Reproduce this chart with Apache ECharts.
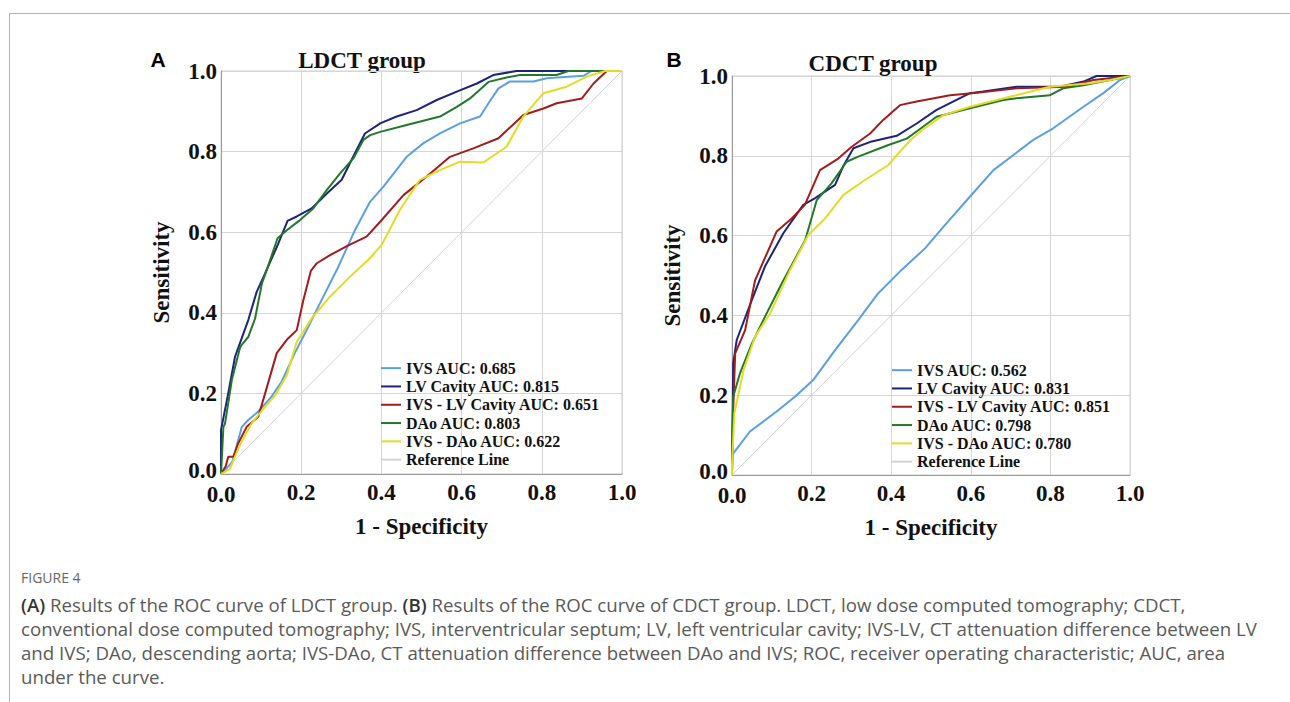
<!DOCTYPE html>
<html>
<head>
<meta charset="utf-8">
<script src="https://cdn.jsdelivr.net/npm/echarts@6/dist/echarts.min.js"></script>
<style>
  html, body { margin: 0; padding: 0; background: #fff; }
  #page { position: relative; width: 1290px; height: 702px; overflow: hidden; }
  #frame { position: absolute; left: 9px; top: 13px; right: 0; bottom: -2px;
           border-top: 1px solid #b3b3b3; border-left: 1px solid #b3b3b3; }
  #roc { position: absolute; left: 0; top: 0; width: 1290px; height: 702px; }
  #caption { position: absolute; left: 21px; top: 566px; font-family: "Open Sans", Lato, sans-serif;
             color: #5a5a5a; white-space: nowrap; }
  #caption .fig { font-size: 14px; line-height: 24px; color: #666; margin-bottom: 3px; }
  #caption .line { font-size: 18px; line-height: 24px; }
  #caption b { color: #333; font-weight: 600; }
</style>
</head>
<body>
<div id="page">
  <div id="frame"></div>
  <div id="roc"></div>
  <div id="caption">
    <div class="fig">FIGURE 4</div>
    <div class="line"><b>(A)</b> Results of the ROC curve of LDCT group. <b>(B)</b> Results of the ROC curve of CDCT group. LDCT, low dose computed tomography; CDCT,</div>
    <div class="line"><span id="cap2">conventional dose computed tomography; IVS, interventricular septum; LV, left ventricular cavity; IVS-LV, CT attenuation difference between LV</span></div>
    <div class="line">and IVS; DAo, descending aorta; IVS-DAo, CT attenuation difference between DAo and IVS; ROC, receiver operating characteristic; AUC, area</div>
    <div class="line">under the curve.</div>
  </div>
</div>
<script>
// ROC points [1 - specificity, sensitivity]
var ldctIVS = [[0,0],[0.014,0.014],[0.028,0.03],[0.052,0.117],[0.068,0.134],[0.093,0.155],[0.126,0.192],[0.151,0.229],[0.184,0.3],[0.218,0.366],[0.251,0.432],[0.293,0.515],[0.334,0.605],[0.372,0.676],[0.405,0.713],[0.463,0.787],[0.505,0.821],[0.546,0.845],[0.596,0.87],[0.646,0.887],[0.667,0.92],[0.692,0.957],[0.721,0.974],[0.779,0.974],[0.812,0.982],[0.904,0.988],[0.924,1],[1,1]];
var ldctLV = [[0,0],[0,0.109],[0.018,0.2],[0.035,0.291],[0.047,0.324],[0.068,0.382],[0.089,0.452],[0.11,0.498],[0.143,0.572],[0.166,0.628],[0.189,0.639],[0.226,0.659],[0.264,0.696],[0.301,0.73],[0.338,0.804],[0.359,0.845],[0.397,0.87],[0.438,0.887],[0.488,0.903],[0.538,0.928],[0.588,0.949],[0.638,0.969],[0.679,0.99],[0.737,1],[1,1]];
var ldctIVSLV = [[0,0],[0.012,0.02],[0.018,0.043],[0.031,0.043],[0.043,0.076],[0.064,0.117],[0.093,0.142],[0.11,0.2],[0.139,0.3],[0.164,0.333],[0.189,0.357],[0.205,0.43],[0.224,0.504],[0.239,0.523],[0.272,0.543],[0.315,0.566],[0.363,0.589],[0.397,0.626],[0.455,0.692],[0.513,0.738],[0.571,0.787],[0.629,0.808],[0.692,0.833],[0.754,0.891],[0.804,0.907],[0.837,0.92],[0.9,0.932],[0.929,0.969],[0.962,1],[1,1]];
var ldctDAo = [[0,0],[0.006,0.117],[0.01,0.125],[0.027,0.233],[0.047,0.312],[0.051,0.32],[0.068,0.34],[0.085,0.386],[0.102,0.473],[0.114,0.506],[0.141,0.585],[0.164,0.605],[0.197,0.63],[0.23,0.659],[0.264,0.705],[0.297,0.746],[0.33,0.783],[0.355,0.829],[0.372,0.841],[0.397,0.849],[0.463,0.866],[0.546,0.887],[0.588,0.911],[0.621,0.932],[0.667,0.973],[0.712,0.984],[0.746,0.99],[0.837,0.99],[0.866,1],[1,1]];
var ldctIVSDAo = [[0,0],[0.022,0.012],[0.047,0.072],[0.076,0.125],[0.106,0.162],[0.135,0.195],[0.164,0.245],[0.189,0.328],[0.226,0.386],[0.268,0.436],[0.318,0.486],[0.372,0.536],[0.401,0.569],[0.446,0.655],[0.496,0.73],[0.546,0.754],[0.596,0.775],[0.654,0.773],[0.712,0.812],[0.754,0.887],[0.804,0.945],[0.862,0.961],[0.912,0.986],[0.958,1],[1,1]];

var cdctIVS = [[0,0],[0,0.05],[0.045,0.109],[0.112,0.159],[0.158,0.196],[0.204,0.238],[0.259,0.313],[0.317,0.388],[0.367,0.455],[0.426,0.514],[0.485,0.568],[0.531,0.622],[0.598,0.698],[0.657,0.764],[0.707,0.802],[0.757,0.84],[0.807,0.869],[0.883,0.923],[0.933,0.957],[0.975,0.99],[1,1]];
var cdctLV = [[0,0],[0.002,0.171],[0.003,0.28],[0.012,0.339],[0.05,0.439],[0.083,0.523],[0.129,0.606],[0.179,0.677],[0.209,0.694],[0.259,0.727],[0.279,0.773],[0.305,0.819],[0.351,0.836],[0.414,0.85],[0.464,0.881],[0.514,0.915],[0.598,0.957],[0.631,0.961],[0.715,0.973],[0.824,0.973],[0.883,0.986],[0.916,1],[1,1]];
var cdctIVSLV = [[0,0],[0.003,0.163],[0.008,0.305],[0.033,0.363],[0.058,0.488],[0.112,0.61],[0.15,0.643],[0.183,0.677],[0.221,0.764],[0.267,0.793],[0.3,0.822],[0.347,0.856],[0.38,0.89],[0.422,0.927],[0.464,0.936],[0.548,0.952],[0.615,0.958],[0.715,0.969],[0.841,0.973],[0.908,0.99],[1,1]];
var cdctDAo = [[0,0],[0,0.058],[0.003,0.196],[0.02,0.255],[0.05,0.33],[0.083,0.397],[0.125,0.48],[0.184,0.589],[0.213,0.689],[0.25,0.731],[0.288,0.785],[0.317,0.798],[0.393,0.827],[0.439,0.843],[0.468,0.864],[0.514,0.898],[0.598,0.919],[0.682,0.94],[0.715,0.944],[0.799,0.952],[0.832,0.969],[0.883,0.977],[0.95,0.99],[1,1]];
var cdctIVSDAo = [[0,0],[0,0.025],[0.006,0.155],[0.029,0.263],[0.058,0.347],[0.096,0.405],[0.146,0.514],[0.192,0.602],[0.234,0.643],[0.28,0.702],[0.335,0.74],[0.393,0.777],[0.418,0.806],[0.448,0.839],[0.477,0.864],[0.531,0.902],[0.598,0.923],[0.698,0.948],[0.799,0.973],[0.9,0.982],[0.95,0.99],[1,1]];

var refLine = [[0,0],[1,1]];

var ldctNames = ['IVS AUC: 0.685', 'LV Cavity AUC: 0.815', 'IVS - LV Cavity AUC: 0.651', 'DAo AUC: 0.803', 'IVS - DAo AUC: 0.622', 'Reference Line'];
var cdctNames = ['IVS AUC: 0.562', 'LV Cavity AUC: 0.831', 'IVS - LV Cavity AUC: 0.851', 'DAo AUC: 0.798', 'IVS - DAo AUC: 0.780', 'Reference Line'];
var lineColors = ['#5b9fe3', '#1b2479', '#a11c1c', '#23772a', '#e2dc22', '#d3d3d3'];

var serif = '"Liberation Serif", "Times New Roman", serif';
var tickFont = { fontFamily: serif, fontWeight: 'bold', fontSize: 23, color: '#111' };

// caption: scale the font so the second line is as wide as in the figure
var cap2 = document.getElementById('cap2');
var capSize = 18 * 1236 / cap2.offsetWidth;
Array.prototype.forEach.call(document.querySelectorAll('#caption .line'), function (el) {
    el.style.fontSize = capSize.toFixed(2) + 'px';
});

// the two "0.0" labels meet in the corner: nudge them apart a little
var cornerStyle = function (pad) {
    return Object.assign({ padding: pad }, tickFont);
};

var makeX = function (idx) {
    return {
        type: 'value', gridIndex: idx, min: 0, max: 1, interval: 0.2,
        name: '1 - Specificity', nameLocation: 'middle', nameGap: 41,
        nameTextStyle: tickFont,
        axisLine: { lineStyle: { color: '#9a9a9a', width: 1 } },
        axisTick: { show: false },
        axisLabel: Object.assign({ margin: 9, lineHeight: 18,
            formatter: function (v) { return v === 0 ? '{c|0.0}' : v.toFixed(1); },
            rich: { c: cornerStyle([4, 0, 0, 0]) } }, tickFont),
        splitLine: { lineStyle: { color: '#d6d6d6', width: 1 } }
    };
};
var makeY = function (idx) {
    return {
        type: 'value', gridIndex: idx, min: 0, max: 1, interval: 0.2,
        name: 'Sensitivity', nameLocation: 'middle', nameGap: 48,
        nameTextStyle: tickFont,
        axisLine: { lineStyle: { color: '#9a9a9a', width: 1 } },
        axisTick: { show: false },
        axisLabel: Object.assign({ margin: 4, lineHeight: 18,
            formatter: function (v) { return v === 0 ? '{c|0.0}' : v.toFixed(1); },
            rich: { c: cornerStyle([0, 0, 8, 0]) } }, tickFont),
        splitLine: { lineStyle: { color: '#d6d6d6', width: 1 } }
    };
};
var makeLegend = function (names, left, top) {
    return {
        orient: 'vertical', left: left, top: top, padding: 0, itemGap: 0,
        itemWidth: 20, itemHeight: 2, icon: 'rect', data: names,
        textStyle: { fontFamily: serif, fontWeight: 'bold', fontSize: 16, color: '#111', lineHeight: 18.3 }
    };
};
var makeSeries = function (names, sets, idx) {
    var out = [];
    sets.forEach(function (d, i) {
        out.push({
            name: names[i], type: 'line', xAxisIndex: idx, yAxisIndex: idx,
            data: d, symbol: 'none', silent: true,
            z: i === 5 ? 1 : 2 + i,
            lineStyle: { color: lineColors[i], width: i === 5 ? 1 : 2 },
            itemStyle: { color: lineColors[i] }
        });
    });
    return out;
};

var chart = echarts.init(document.getElementById('roc'), null, { renderer: 'svg' });
chart.setOption({
    animation: false,
    backgroundColor: 'transparent',
    grid: [
        { left: 221, top: 71, width: 401, height: 403, show: true, borderColor: '#cfcfcf', borderWidth: 1 },
        { left: 732, top: 76, width: 398, height: 399, show: true, borderColor: '#cfcfcf', borderWidth: 1 }
    ],
    xAxis: [makeX(0), makeX(1)],
    yAxis: [makeY(0), makeY(1)],
    legend: [makeLegend(ldctNames, 381, 359), makeLegend(cdctNames, 892, 361)],
    graphic: [
        { type: 'text', x: 158, y: 59, style: { text: 'A', font: 'bold 21px "Liberation Sans", Arial, sans-serif', fill: '#000', align: 'center', verticalAlign: 'middle' } },
        { type: 'text', x: 674, y: 59, style: { text: 'B', font: 'bold 21px "Liberation Sans", Arial, sans-serif', fill: '#000', align: 'center', verticalAlign: 'middle' } },
        { type: 'text', x: 362, y: 60, style: { text: 'LDCT group', font: 'bold 23px ' + serif, fill: '#111', align: 'center', verticalAlign: 'middle' } },
        { type: 'text', x: 873, y: 63, style: { text: 'CDCT group', font: 'bold 23px ' + serif, fill: '#111', align: 'center', verticalAlign: 'middle' } }
    ],
    series: makeSeries(ldctNames, [ldctIVS, ldctLV, ldctIVSLV, ldctDAo, ldctIVSDAo, refLine], 0)
        .concat(makeSeries(cdctNames, [cdctIVS, cdctLV, cdctIVSLV, cdctDAo, cdctIVSDAo, refLine], 1))
});
</script>
</body>
</html>
